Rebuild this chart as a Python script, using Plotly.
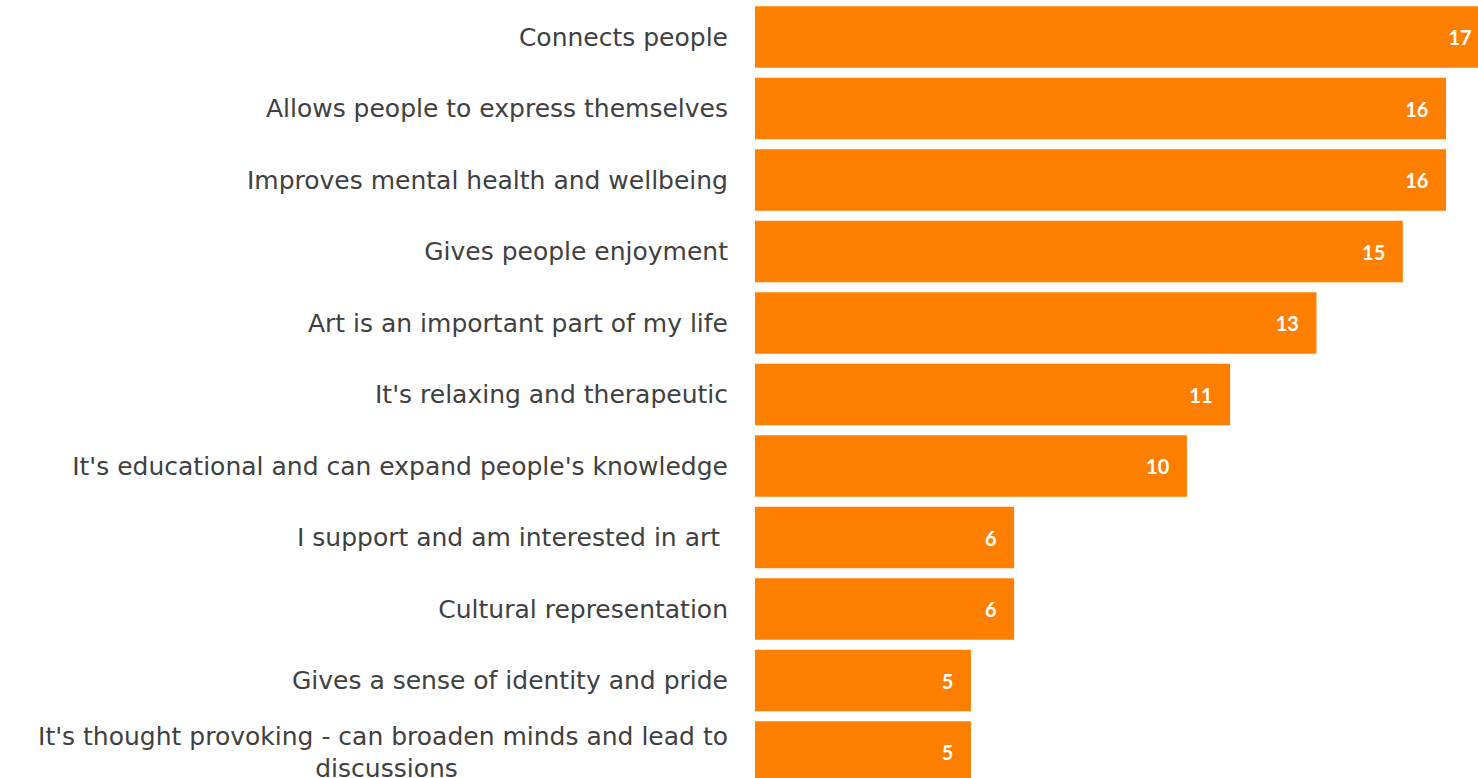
import plotly.graph_objects as go

PAD = "\u00a0" * 34

categories = [
    "Connects people",
    "Allows people to express themselves",
    "Improves mental health and wellbeing",
    "Gives people enjoyment",
    "Art is an important part of my life",
    "It's relaxing and therapeutic",
    "It's educational and can expand people's knowledge",
    "I support and am interested in art ",
    "Cultural representation",
    "Gives a sense of identity and pride",
    "It's thought provoking - can broaden minds and lead to<br>discussions" + PAD,
]
values = [17, 16, 16, 15, 13, 11, 10, 6, 6, 5, 5]

fig = go.Figure(go.Bar(
    x=values,
    y=categories,
    orientation="h",
    marker=dict(color="#FF7F00", line=dict(width=0)),
    text=[f"{v}\u00a0\u00a0\u00a0" for v in values],
    textposition="inside",
    insidetextanchor="end",
    textangle=0,
    textfont=dict(family="Lato", size=20, color="white", weight="bold"),
    cliponaxis=True,
    hoverinfo="skip",
))

fig.update_layout(
    width=1478,
    height=778,
    margin=dict(l=755, r=0, t=0, b=0, autoexpand=False),
    paper_bgcolor="white",
    plot_bgcolor="white",
    bargap=0.14,
    showlegend=False,
)
fig.update_xaxes(range=[0, 16.74], visible=False, showgrid=False, zeroline=False,
                 automargin=False)
fig.update_yaxes(
    range=[10.362, -0.518],
    automargin=False,
    showgrid=False,
    zeroline=False,
    showline=False,
    ticks="",
    ticklabelstandoff=26,
    tickfont=dict(family="DejaVu Sans", size=25, color="#404040"),
)

fig.write_html(
    "out.html",
    config={"displayModeBar": False},
    post_script="document.body.style.margin='0';document.body.style.overflow='hidden';",
)
